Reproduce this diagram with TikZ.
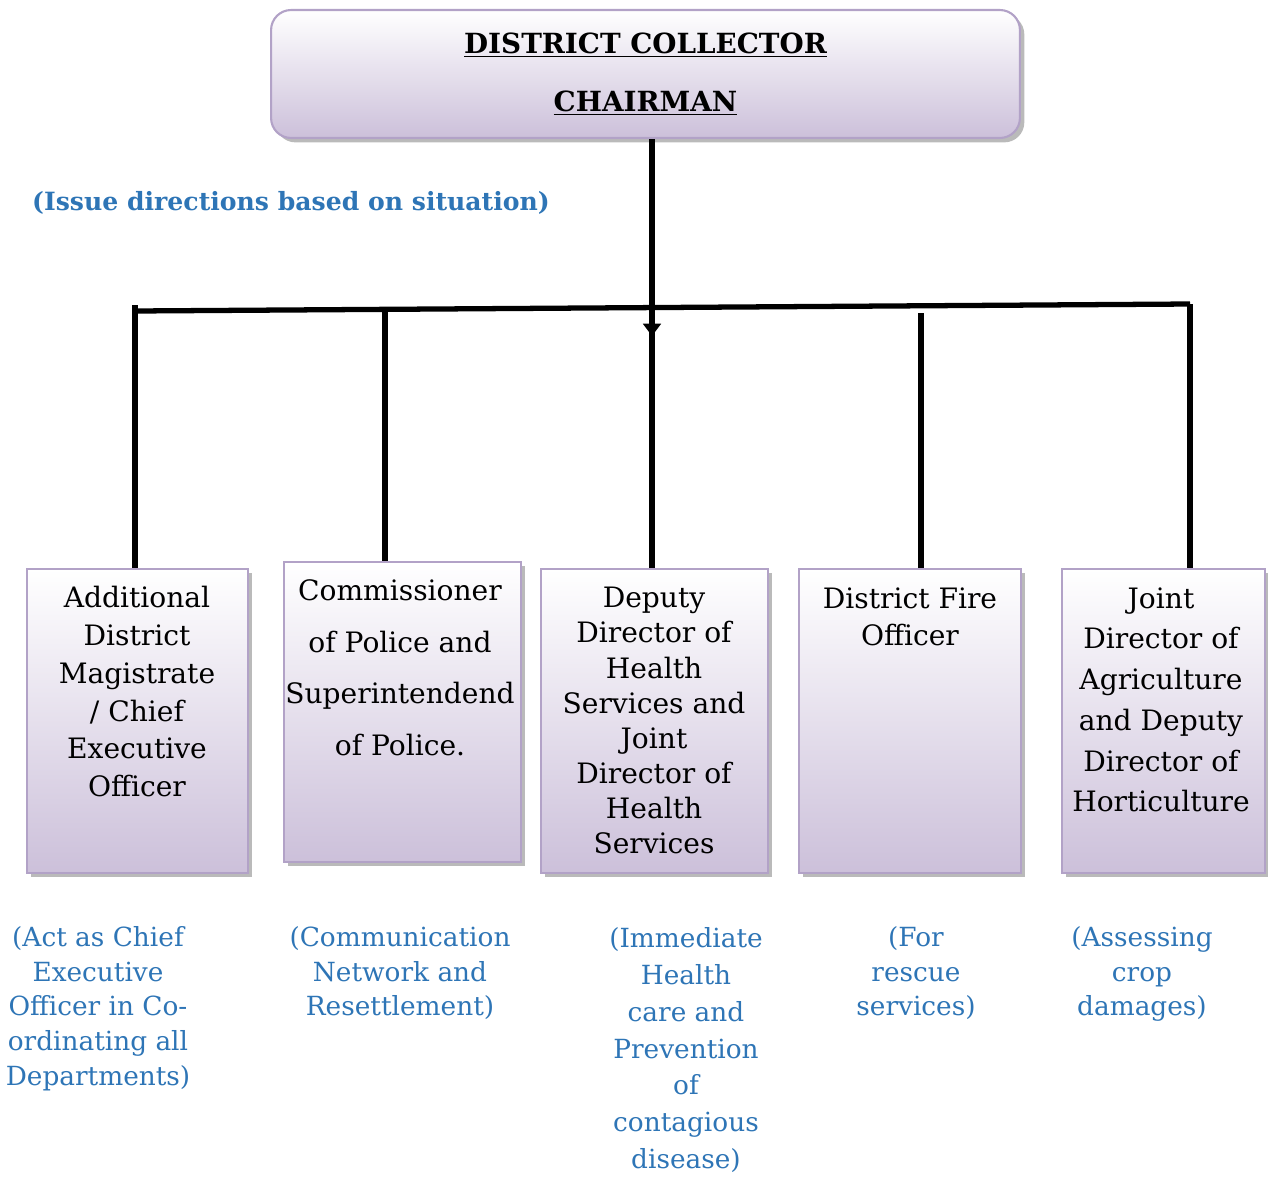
\documentclass[tikz,border=0pt]{standalone}
\usepackage{fontspec}
\setmainfont{DejaVu Serif}
\usetikzlibrary{arrows.meta,shadows}
\definecolor{boxline}{RGB}{178,162,199}
\definecolor{boxfill}{RGB}{204,192,218}
\definecolor{noteblue}{RGB}{46,117,182}
\begin{document}
\begin{tikzpicture}[x=0.02cm,y=-0.02cm,
  post/.style={draw=boxline, line width=1.2pt, top color=white, bottom color=boxfill, inner sep=0pt,
    drop shadow={shadow xshift=2.5pt, shadow yshift=-2.5pt, fill=black!45, opacity=.6}},
  title/.style={font=\fontsize{16}{21.5}\selectfont, align=center, anchor=north, inner sep=0pt},
  note/.style={font=\fontsize{15}{19.8}\selectfont, text=noteblue, align=center, anchor=north, inner sep=0pt},
  wire/.style={line width=3pt}]
\useasboundingbox (0,0) rectangle (1268,1177);
\node[post, rounded corners=0.4cm, minimum width=14.98cm, minimum height=2.56cm, align=center,
  font=\bfseries\fontsize{15.8}{33}\selectfont] (chair) at (645.5,74) {\underline{DISTRICT COLLECTOR}\\\underline{CHAIRMAN}};
\node[font=\bfseries\fontsize{14.3}{17}\selectfont, text=noteblue] (issue) at (291,203) {(Issue directions based on situation)};
\node[post, minimum width=4.42cm, minimum height=6.08cm] (adm) at (137.5,721) {};
\node[post, minimum width=4.74cm, minimum height=6cm] (cop) at (402.5,712) {};
\node[post, minimum width=4.54cm, minimum height=6.08cm] (ddh) at (654.5,721) {};
\node[post, minimum width=4.44cm, minimum height=6.08cm] (dfo) at (910,721) {};
\node[post, minimum width=4.06cm, minimum height=6.08cm] (jda) at (1163.5,721) {};
\node[title] (admtxt) at (137,586) {Additional\\District\\Magistrate\\/ Chief\\Executive\\Officer};
\node[title, font=\fontsize{16}{29.5}\selectfont] (coptxt) at (400,579) {Commissioner\\of Police and\\Superintendend\\of Police.};
\node[title, font=\fontsize{16}{20}\selectfont] (ddhtxt) at (654,587) {Deputy\\Director of\\Health\\Services and\\Joint\\Director of\\Health\\Services};
\node[title] (dfotxt) at (910,587) {District Fire\\Officer};
\node[title, font=\fontsize{16}{23.2}\selectfont] (jdatxt) at (1161,587) {Joint\\Director of\\Agriculture\\and Deputy\\Director of\\Horticulture};
\node[note] (admnote) at (98,926) {(Act as Chief\\Executive\\Officer in Co-\\ordinating all\\Departments)};
\node[note] (copnote) at (400,926) {(Communication\\Network and\\Resettlement)};
\node[note, font=\fontsize{15}{21}\selectfont] (ddhnote) at (686,927) {(Immediate\\Health\\care and\\Prevention\\of\\contagious\\disease)};
\node[note] (dfonote) at (916,926) {(For\\rescue\\services)};
\node[note] (jdanote) at (1142,926) {(Assessing\\crop\\damages)};
\coordinate (jl) at (135,311);
\coordinate (jr) at (1190,304);
\coordinate (j2) at (385,309.3);
\coordinate (j3) at (652,326);
\coordinate (j4) at (921,313);
\coordinate (tip) at (652,336);
\draw[wire] (jl) -- (jr);
\draw[wire] (135,305) -- (jl |- adm.north);
\draw[wire] (j2) -- (j2 |- cop.north);
\draw[wire] (j4) -- (j4 |- dfo.north);
\draw[wire] (jr) -- (jr |- jda.north);
\draw[wire, -{Triangle[width=10pt,length=7pt]}] (chair.south -| tip) -- (tip);
\draw[wire] (j3) -- (j3 |- ddh.north);
\end{tikzpicture}
\end{document}
